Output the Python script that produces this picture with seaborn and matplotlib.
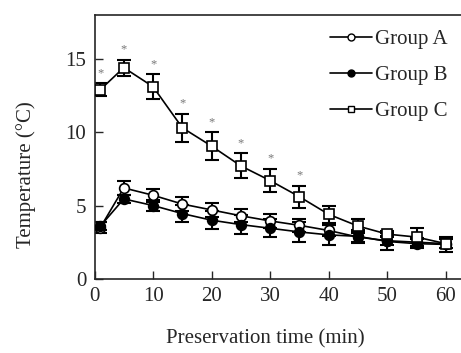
import seaborn as sns
import matplotlib.pyplot as plt
import pandas as pd

# Preservation time (min) and mean temperature (°C) with error
time_min = [1, 5, 10, 15, 20, 25, 30, 35, 40, 45, 50, 55, 60]
group_a = [3.5, 6.2, 5.7, 5.1, 4.7, 4.3, 3.95, 3.65, 3.3, 2.85, 2.6, 2.5, 2.4]
group_a_err = [0.4, 0.5, 0.45, 0.5, 0.5, 0.45, 0.45, 0.45, 0.4, 0.4, 0.3, 0.3, 0.3]
group_b = [3.6, 5.45, 5.0, 4.45, 4.0, 3.7, 3.45, 3.2, 3.0, 2.9, 2.55, 2.4, 2.35]
group_b_err = [0.3, 0.3, 0.35, 0.6, 0.6, 0.65, 0.6, 0.7, 0.7, 0.4, 0.55, 0.3, 0.5]
group_c = [12.9, 14.4, 13.1, 10.3, 9.05, 7.7, 6.7, 5.6, 4.4, 3.6, 3.05, 2.85, 2.4]
group_c_err = [0.45, 0.55, 0.85, 0.95, 0.95, 0.85, 0.8, 0.75, 0.6, 0.5, 0.2, 0.6, 0.3]
signif = [True] * 8 + [False] * 5

groups = ["Group A", "Group B", "Group C"]
df = pd.concat([
    pd.DataFrame({"time": time_min, "temp": group_a, "err": group_a_err, "group": "Group A"}),
    pd.DataFrame({"time": time_min, "temp": group_b, "err": group_b_err, "group": "Group B"}),
    pd.DataFrame({"time": time_min, "temp": group_c, "err": group_c_err, "group": "Group C"}),
])

sns.set_style("ticks")
plt.rcParams["font.family"] = ["Liberation Serif", "DejaVu Serif"]
fs = 15

fig = plt.figure(figsize=(4.61, 3.53), dpi=100)
ax = fig.add_axes([0.205, 0.21, 0.795, 0.748])

markers = {"Group A": "o", "Group B": "o", "Group C": "s"}
faces = {"Group A": "white", "Group B": "black", "Group C": "white"}

sns.lineplot(data=df, x="time", y="temp", hue="group", style="group",
             palette=["black"] * 3, markers=markers, dashes=False,
             linewidth=1.2, markersize=7, markeredgecolor="black",
             markeredgewidth=1.2, ax=ax, legend=False, zorder=3)

# marker faces: seaborn colours them by hue, so set them per line
for line, name in zip(list(ax.lines), groups):
    line.set_markerfacecolor(faces[name])

for name, sub in df.groupby("group"):
    ax.errorbar(sub["time"], sub["temp"], yerr=sub["err"], fmt="none",
                ecolor="black", elinewidth=1.5, capsize=5, capthick=1.5, zorder=2)

# asterisks above Group C
for t, v, e, s in zip(time_min, group_c, group_c_err, signif):
    if s:
        ax.annotate("*", (t, v + e), xytext=(0, 3), textcoords="offset points",
                    ha="center", va="bottom", fontsize=9, color="#777777")

handles = [plt.Line2D([], [], color="black", lw=1.2, marker=markers[n],
                      markersize=5, markerfacecolor=faces[n],
                      markeredgecolor="black") for n in groups]
ax.legend(handles, groups, loc="upper right", frameon=False, fontsize=fs,
          handlelength=2.0, handletextpad=0.15, labelspacing=0.8,
          bbox_to_anchor=(1.015, 1.016))

ax.set_xlim(0, 62.6)
ax.set_ylim(0, 18)
ax.set_xticks(range(0, 61, 10))
ax.set_yticks([0, 5, 10, 15])
ax.tick_params(direction="in", length=6, width=1, labelsize=fs, pad=6)
ax.spines["right"].set_visible(False)
for sp in ["left", "bottom", "top"]:
    ax.spines[sp].set_linewidth(1.2)
ax.set_xlabel("Preservation time (min)", fontsize=fs)
ax.set_ylabel("Temperature (°C)", fontsize=fs)
ax.xaxis.set_label_coords(0.467, -0.19)
ax.yaxis.set_label_coords(-0.16, 0.393)

fig.savefig("out.png", dpi=100)
